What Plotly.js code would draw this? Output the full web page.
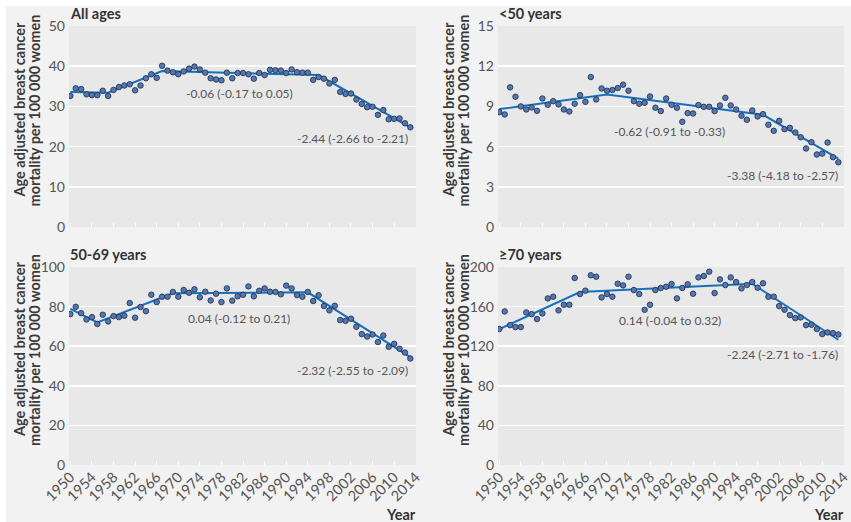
<!DOCTYPE html>
<html>
<head>
<meta charset="utf-8">
<script src="https://cdn.plot.ly/plotly-3.0.1.min.js"></script>
<style>
html,body{margin:0;padding:0;background:#ffffff;}
#chart{position:absolute;left:6px;top:6px;width:845px;height:516px;}
</style>
</head>
<body>
<div id="chart"></div>
<script>
// ---- data ----
const years = [];
for (let y = 1950; y <= 2013; y++) years.push(y);

const allAges = [32.6,34.5,34.3,33.0,32.8,32.8,33.9,32.6,34.1,34.8,35.2,35.5,34.0,35.2,37.0,38.0,
  37.1,40.1,38.9,38.5,38.0,38.7,39.4,39.9,39.2,38.4,37.0,36.7,36.5,38.4,37.0,38.3,
  38.3,38.0,36.9,38.3,37.8,39.1,39.0,38.9,38.3,39.2,38.5,38.4,38.4,36.6,37.3,36.9,
  35.7,36.6,33.6,33.1,33.2,31.7,30.6,29.8,29.9,27.9,29.1,26.8,26.9,27.0,25.8,24.8];

const under50 = [8.57,8.40,10.42,9.72,9.00,8.77,8.92,8.67,9.59,9.12,9.39,9.15,8.77,8.62,9.20,9.84,
  9.34,11.19,9.52,10.34,10.17,10.22,10.37,10.62,10.17,9.39,9.20,9.27,9.74,8.90,8.65,9.59,
  9.12,8.90,7.85,8.50,8.47,9.10,8.97,8.97,8.65,9.07,9.64,9.07,8.77,8.30,8.00,8.70,
  8.25,8.42,7.63,7.18,7.92,7.30,7.40,7.05,6.70,5.86,6.33,5.41,5.48,6.30,5.21,4.83];

const age50to69 = [76.2,79.9,76.7,73.5,74.7,71.2,75.9,72.5,75.2,74.7,75.4,81.8,74.4,79.8,77.7,86.0,
  82.3,85.0,85.0,87.4,85.0,88.4,87.0,88.7,84.7,87.5,83.1,86.5,82.3,89.2,83.0,85.2,
  86.0,90.2,85.2,88.0,89.2,87.5,87.4,86.2,90.6,89.2,85.8,85.0,87.4,82.8,85.7,80.3,
  78.1,80.4,73.2,72.8,73.9,69.8,66.1,64.9,65.9,62.1,65.4,59.7,61.2,58.7,56.8,53.8];

const over70 = [137.3,155.1,141.3,139.3,139.3,154.1,152.4,147.4,153.1,168.3,170.0,156.2,161.9,161.9,188.9,172.7,
  176.1,191.6,190.2,169.3,172.7,170.0,183.1,181.4,190.2,176.7,172.7,156.8,161.9,176.7,178.8,180.1,
  182.8,168.3,178.8,182.5,173.0,189.5,190.9,195.3,173.7,187.5,181.8,189.5,184.8,178.4,181.8,184.8,
  179.1,183.5,170.0,170.0,160.5,156.8,151.4,148.4,149.1,141.3,141.7,137.3,132.2,133.9,133.2,131.9];

// joinpoint trend lines
const allTrendYears = [1950,1957,1967,1996,2013];
const allTrendVals  = [33.6,33.4,38.8,37.8,24.8];
const u50TrendYears = [1950,1970,1999,2013];
const u50TrendVals  = [8.80,9.89,8.37,5.11];
const midTrendYears = [1950,1955,1969,1994,2013];
const midTrendVals  = [78.8,72.0,86.7,87.2,54.5];
const o70TrendYears = [1950,1965,1997,2013];
const o70TrendVals  = [137.3,174.7,183.1,126.5];

const panelTitles = ['All ages', '<50 years', '50-69 years', '\u226570 years'];
const midLabels = ['-0.06 (-0.17 to 0.05)', '-0.62 (-0.91 to -0.33)', '0.04 (-0.12 to 0.21)', '0.14 (-0.04 to 0.32)'];
const endLabels = ['-2.44 (-2.66 to -2.21)', '-3.38 (-4.18 to -2.57)', '-2.32 (-2.55 to -2.09)', '-2.24 (-2.71 to -1.76)'];
const yTitleLines = ['Age adjusted breast cancer', 'mortality per 100 000 women'];
const xTickVals = [1950,1954,1958,1962,1966,1970,1974,1978,1982,1986,1990,1994,1998,2002,2006,2010,2014];

// ---- styling ----
const FONT = 'Lato, "Noto Sans", sans-serif';
const LINE_COLOR = '#1570bd';
const MARKER_FILL = '#5478ad';
const MARKER_EDGE = '#24365a';

const series = [allAges, under50, age50to69, over70];
const trendX = [allTrendYears, u50TrendYears, midTrendYears, o70TrendYears];
const trendY = [allTrendVals, u50TrendVals, midTrendVals, o70TrendVals];
const axisSuffix = ['', '2', '3', '4'];

const traces = [];
for (let i = 0; i < 4; i++) {
  traces.push({
    x: trendX[i], y: trendY[i], type: 'scatter', mode: 'lines',
    xaxis: 'x' + axisSuffix[i], yaxis: 'y' + axisSuffix[i],
    line: {color: LINE_COLOR, width: 2}, hoverinfo: 'skip'
  });
  traces.push({
    x: years, y: series[i], type: 'scatter', mode: 'markers',
    xaxis: 'x' + axisSuffix[i], yaxis: 'y' + axisSuffix[i],
    marker: {color: MARKER_FILL, size: 5.5, line: {color: MARKER_EDGE, width: 0.9}}
  });
}

// domains in fractions of the 845x516 chart div
const W = 845, H = 516;
const xDomL = [63 / W, 410 / W];
const xDomR = [492 / W, 838 / W];
const yDomT = [1 - 221 / H, 1 - 20 / H];
const yDomB = [1 - 459 / H, 1 - 261 / H];

function xAxis(domain, anchor, showLabels) {
  return {
    domain: domain, anchor: anchor, range: [1949.75, 2014.05],
    tickvals: xTickVals, ticktext: xTickVals.map(String),
    showticklabels: showLabels, tickangle: -45,
    ticks: 'inside', ticklen: 4, tickcolor: '#ffffff', tickwidth: 1,
    showgrid: false, zeroline: false, showline: false,
    tickfont: {family: FONT, size: 14.5, color: '#555555'}
  };
}
function yAxis(domain, anchor, maxV, dt) {
  return {
    domain: domain, anchor: anchor, range: [0, maxV], dtick: dt, tick0: 0,
    showgrid: true, gridcolor: '#ffffff', gridwidth: 1.5,
    zeroline: false, showline: false, ticks: '', ticklabelstandoff: 3,
    tickfont: {family: FONT, size: 14, color: '#555555'}
  };
}

const layout = {
  width: W, height: H,
  margin: {l: 0, r: 0, t: 0, b: 0, pad: 0},
  paper_bgcolor: '#f2f2f2', plot_bgcolor: '#e8e8e8',
  showlegend: false,
  font: {family: FONT, color: '#444444'},
  xaxis: xAxis(xDomL, 'y', false),
  yaxis: yAxis(yDomT, 'x', 50, 10),
  xaxis2: xAxis(xDomR, 'y2', false),
  yaxis2: yAxis(yDomT, 'x2', 15, 3),
  xaxis3: xAxis(xDomL, 'y3', true),
  yaxis3: yAxis(yDomB, 'x3', 100, 20),
  xaxis4: xAxis(xDomR, 'y4', true),
  yaxis4: yAxis(yDomB, 'x4', 200, 40),
  annotations: []
};

const xDoms = [xDomL, xDomR, xDomL, xDomR];
const yDoms = [yDomT, yDomT, yDomB, yDomB];
const midPos = [[1981.4, 33.1], [1981.7, 7.1], [1981.2, 73.8], [1981.7, 145.7]];
const endPos = [[2012.9, 22.1], [2013.3, 3.81], [2012.9, 47.5], [2013.3, 111.3]];
const titleLineOffsets = [50, 35];

for (let i = 0; i < 4; i++) {
  const xs = 'x' + axisSuffix[i], ys = 'y' + axisSuffix[i];
  // panel title
  layout.annotations.push({
    text: '<b>' + panelTitles[i].replace('<', '&lt;') + '</b>', xref: 'paper', yref: 'paper',
    x: xDoms[i][0], y: yDoms[i][1], xanchor: 'left', yanchor: 'bottom', yshift: 2, xshift: -1,
    showarrow: false, font: {family: FONT, size: 14.5, color: '#333333'}
  });
  // y axis title, two lines placed separately for tight spacing
  for (let k = 0; k < 2; k++) {
    layout.annotations.push({
      text: '<b>' + yTitleLines[k] + '</b>', xref: 'paper', yref: 'paper',
      x: (xDoms[i][0] * W - titleLineOffsets[k]) / W, y: (yDoms[i][0] + yDoms[i][1]) / 2, yshift: 16,
      xanchor: 'center', yanchor: 'middle', textangle: -90, showarrow: false,
      font: {family: FONT, size: 14.5, color: '#3a3a3a'}
    });
  }
  // slope labels
  layout.annotations.push({
    text: midLabels[i], xref: xs, yref: ys, x: midPos[i][0], y: midPos[i][1],
    xanchor: 'center', yanchor: 'middle', showarrow: false,
    font: {family: FONT, size: 12, color: '#555555'}
  });
  layout.annotations.push({
    text: endLabels[i], xref: xs, yref: ys, x: endPos[i][0], y: endPos[i][1],
    xanchor: 'right', yanchor: 'middle', showarrow: false,
    font: {family: FONT, size: 12, color: '#555555'}
  });
}
// "Year" labels
[xDomL, xDomR].forEach(function (d) {
  layout.annotations.push({
    text: '<b>Year</b>', xref: 'paper', yref: 'paper', x: d[1], y: 0,
    xanchor: 'right', yanchor: 'bottom', yshift: -3, xshift: 2, showarrow: false,
    font: {family: FONT, size: 14.5, color: '#333333'}
  });
});

Plotly.newPlot('chart', traces, layout, {displayModeBar: false, staticPlot: true});
</script>
</body>
</html>
